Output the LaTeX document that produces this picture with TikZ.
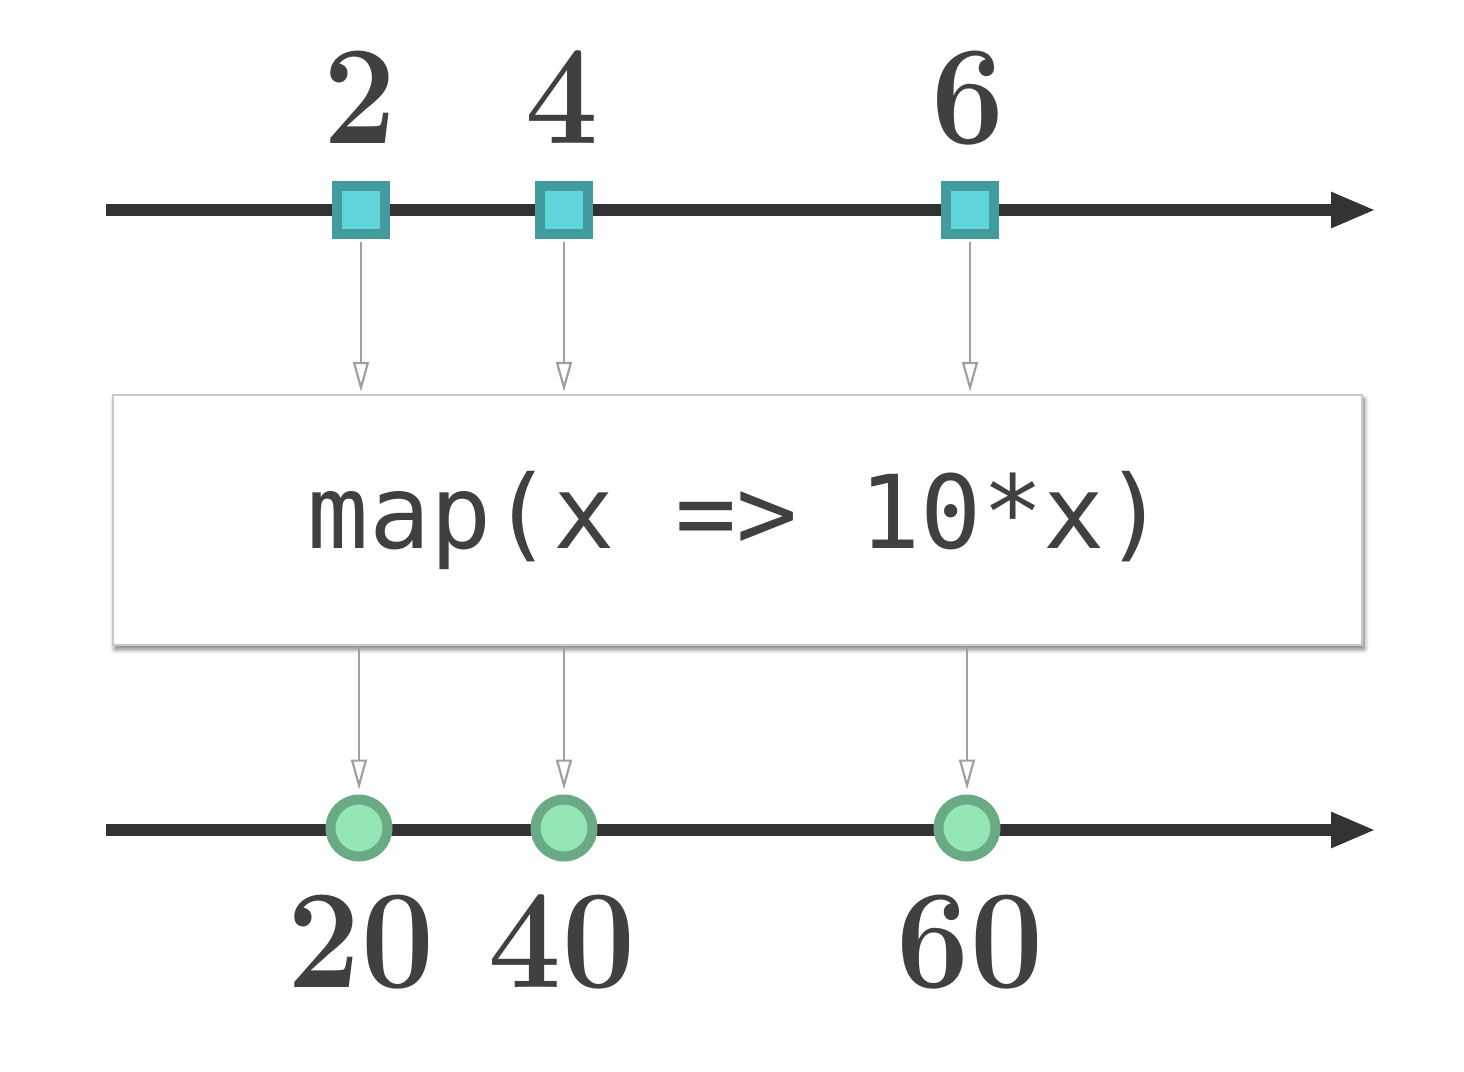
\documentclass[tikz,border=0pt]{standalone}
\usepackage{fontspec}
\setmonofont{DejaVu Sans Mono}
\newfontfamily\numfont[FakeStretch=0.92]{Latin Modern Roman}
\usetikzlibrary{arrows.meta,shadows.blur}
\definecolor{axiscol}{HTML}{333333}
\definecolor{txtcol}{HTML}{404040}
\definecolor{sqfill}{HTML}{5FD4DA}
\definecolor{sqdraw}{HTML}{429C9E}
\definecolor{cifill}{HTML}{94E6B5}
\definecolor{cidraw}{HTML}{6AAB85}
\definecolor{flowcol}{HTML}{A0A0A0}
\definecolor{boxcol}{HTML}{C8C8C8}
\tikzset{
  timeline/.style={draw=axiscol, line width=6pt, -{Triangle[length=22.5pt,width=16.5pt]}},
  sqmark/.style={rectangle, draw=sqdraw, fill=sqfill, line width=5pt, minimum size=24pt, inner sep=0pt},
  cimark/.style={circle, draw=cidraw, fill=cifill, line width=5pt, minimum size=28.5pt, inner sep=0pt},
  numlab/.style={text=txtcol, font=\fontsize{70.5}{80}\numfont\bfseries, inner sep=0pt, anchor=base},
  flow/.style={draw=flowcol, line width=1.1pt, -{Triangle[open,length=15pt,width=8pt]}},
  opbox/.style={rectangle, draw=boxcol, fill=white, line width=1.2pt, minimum width=624.5pt, minimum height=125pt, inner sep=0pt,
    blur shadow={shadow xshift=1pt, shadow yshift=-2pt, shadow blur radius=2.5pt, shadow blur steps=8, shadow opacity=55}},
  optext/.style={text=txtcol, font=\fontsize{50.9}{60}\selectfont\ttfamily, inner sep=0pt, anchor=base}
}
\begin{document}
\begin{tikzpicture}[x=0.5pt,y=-0.5pt]
\useasboundingbox (0,0) rectangle (1464,1072);
% timelines
\coordinate (ta) at (106,210);
\coordinate (tb) at (1376,210);
\coordinate (ba) at (106,830);
\coordinate (bb) at (1376,830);
\draw[timeline] (ta) -- (tb);
\draw[timeline] (ba) -- (bb);
% top marbles
\node[sqmark] (s1) at (361,210) {};
\node[sqmark] (s2) at (564,210) {};
\node[sqmark] (s3) at (970,210) {};
\node[numlab] (l1) at (360,143) {2};
\node[numlab] (l2) at (562,143) {4};
\node[numlab] (l3) at (968,143) {6};
% operator box
\node[opbox] (f) at (737.5,520) {};
\node[optext] (ft) at (737,548) {map(x => 10*x)};
% bottom marbles
\node[cimark] (c1) at (359,828) {};
\node[cimark] (c2) at (564,828) {};
\node[cimark] (c3) at (967,828) {};
\node[numlab] (m1) at (361,987) {20};
\node[numlab] (m2) at (562,987) {40};
\node[numlab] (m3) at (970,987) {60};
% flows
\draw[flow, shorten <=1.5pt, shorten >=1pt] (s1.south) -- (s1.south |- f.north);
\draw[flow, shorten <=1.5pt, shorten >=1pt] (s2.south) -- (s2.south |- f.north);
\draw[flow, shorten <=1.5pt, shorten >=1pt] (s3.south) -- (s3.south |- f.north);
\draw[flow, shorten >=2.5pt] (f.south -| c1) -- (c1.north);
\draw[flow, shorten >=2.5pt] (f.south -| c2) -- (c2.north);
\draw[flow, shorten >=2.5pt] (f.south -| c3) -- (c3.north);
\end{tikzpicture}
\end{document}
